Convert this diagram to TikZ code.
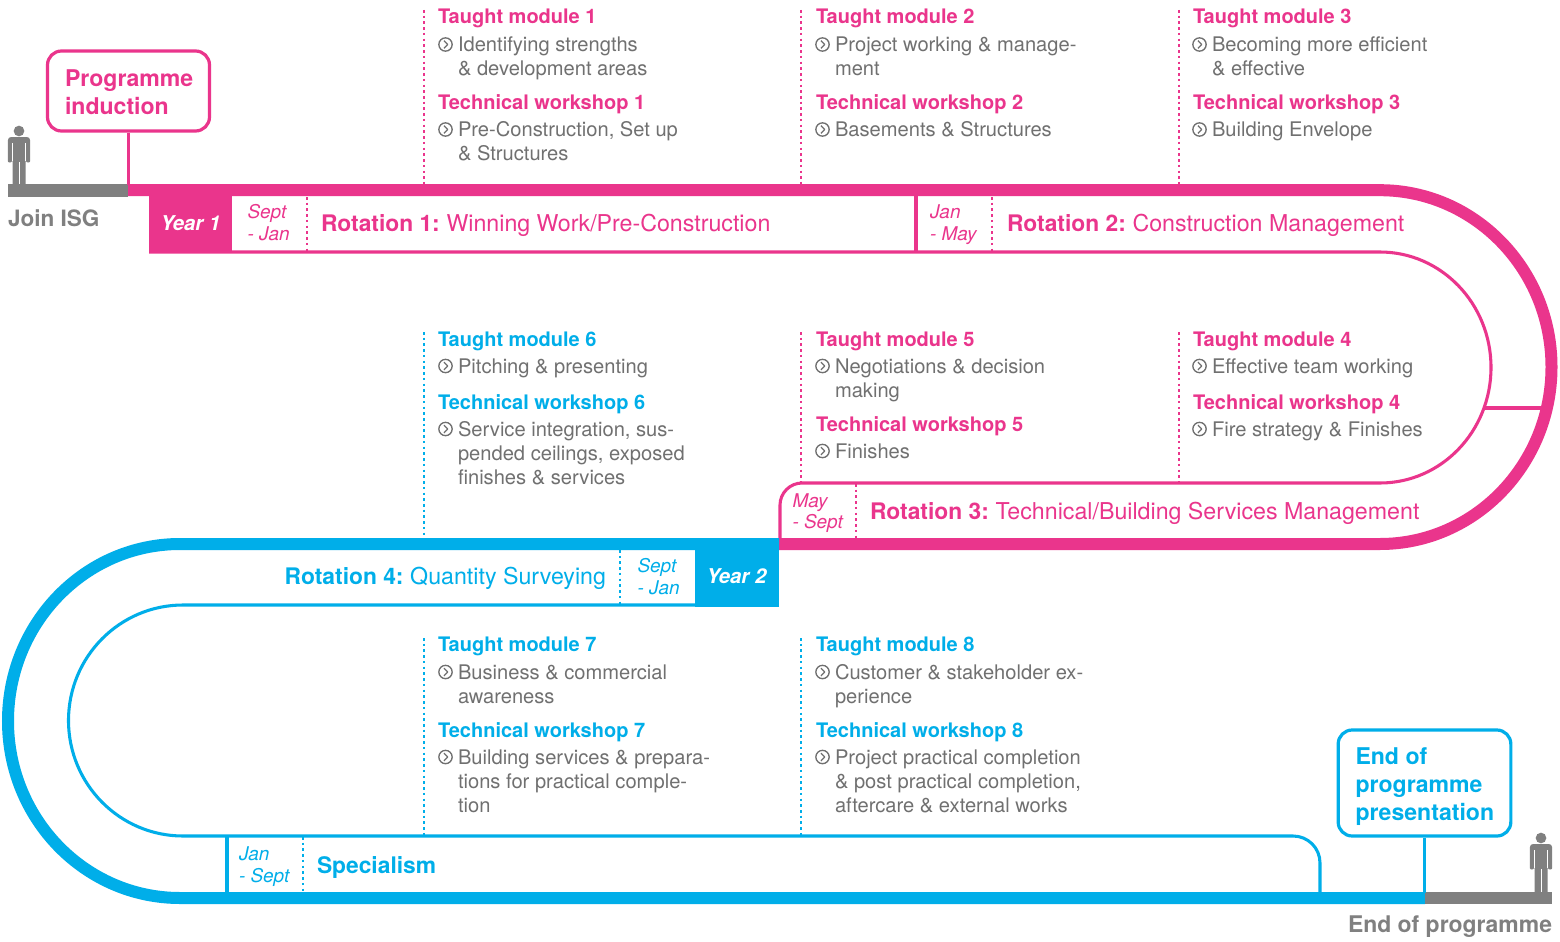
\documentclass[tikz,border=0pt]{standalone}
\usepackage{fontspec}
\setmainfont{TeX Gyre Heros}
\definecolor{pk}{RGB}{234,53,140}
\definecolor{bl}{RGB}{0,174,233}
\definecolor{gr}{RGB}{128,128,128}
\definecolor{tx}{RGB}{112,112,112}
\newcommand{\rotlabel}[2]{{\fontsize{17.1pt}{20pt}\selectfont\bfseries #1}\hspace{5pt}{\fontsize{17.4pt}{20pt}\selectfont #2}}
\tikzset{
  txt/.style={anchor=base west,inner sep=0pt,outer sep=0pt},
  headtxt/.style={txt,font=\fontsize{15pt}{17pt}\selectfont\bfseries},
  bodytxt/.style={txt,font=\fontsize{15.1pt}{18pt}\selectfont,text=tx},
  rottxt/.style={txt,font=\fontsize{17.1pt}{20pt}\selectfont},
  datetxt/.style={txt,font=\fontsize{14.2pt}{17pt}\selectfont\itshape},
  yeartxt/.style={txt,font=\fontsize{15.3pt}{17pt}\selectfont\bfseries\itshape,text=white},
  bigtxt/.style={txt,font=\fontsize{17.3pt}{20pt}\selectfont\bfseries},
  greytxt/.style={txt,font=\fontsize{16.9pt}{20pt}\selectfont\bfseries,text=gr},
  thickbar/.style={line width=9pt},
  thinline/.style={line width=2.3pt},
  dotline/.style={line width=2.2pt,dash pattern=on 1.9pt off 2.4pt},
  callout/.style={draw,line width=2.4pt,rounded corners=10.5pt,fill=white,inner sep=0pt},
  icon/.style={draw=tx,line width=1pt},
  chev/.style={draw=tx,line width=1pt,line join=round},
  person/.style={fill=gr,draw=none},
  slit/.style={draw=white,line width=0.55pt}
}
\newcommand{\hdline}[5]{\node[headtxt,text=#2] (#1) at (#3,#4) {#5};}
\newcommand{\bdline}[4]{\node[bodytxt] (#1) at (#2,#3) {#4};}
\newcommand{\buline}[4]{%
  \begin{scope}[shift={(#2-12.5,#3-7)}]
    \draw[icon] (0,0) circle[radius=5pt];
    \draw[chev] (-1.5,-3.8) -- (2.2,0) -- (-1.5,3.8);
  \end{scope}
  \node[bodytxt] (#1) at (#2,#3) {#4};}
\newcommand{\dotcon}[5]{%
  \coordinate (#1a) at (#3,#4); \coordinate (#1b) at (#3,#5);
  \draw[dotline,#2] (#1a) -- (#1b);}
\newcommand{\personfig}[2]{%
  \begin{scope}[shift={(#1,#2)}]
    \fill[person] (0,-54) circle[radius=4pt];
    \fill[person] (-11.2,-24) -- (-11.2,-44.5) .. controls (-11.2,-47) and (-9.5,-48) .. (-7.5,-48)
      -- (7.5,-48) .. controls (9.5,-48) and (11.2,-47) .. (11.2,-44.5) -- (11.2,-24)
      .. controls (11.2,-22) and (7,-22) .. (7,-24) -- (6.5,-24) -- (6.5,0) -- (-6.5,0) -- (-6.5,-24) -- (-7,-24)
      .. controls (-7,-22) and (-11.2,-22) .. (-11.2,-24) -- cycle;
    \draw[slit] (0,-23) -- (0,0);
    \draw[slit] (-6.6,-42) -- (-6.6,-24);
    \draw[slit] (6.6,-42) -- (6.6,-24);
  \end{scope}}
\begin{document}
\begin{tikzpicture}[x=0.75pt,y=-0.75pt]
\useasboundingbox (0,0) rectangle (1560,942);
\fill[white] (0,0) rectangle (1560,942);

% people
\personfig{19}{185}
\personfig{1541}{892}

% dotted leaders
\dotcon{da}{pk}{424}{10}{186}
\dotcon{db}{pk}{801}{10}{186}
\dotcon{dc}{pk}{1179}{10}{186}
\dotcon{dd}{bl}{424}{332}{540}
\dotcon{de}{pk}{801}{332}{484}
\dotcon{df}{pk}{1179}{332}{484}
\dotcon{dg}{bl}{424}{638}{838}
\dotcon{dh}{bl}{801}{638}{838}

% dividers inside the bands
\dotcon{di}{pk}{307}{197}{252}
\dotcon{dj}{pk}{992}{197}{252}
\dotcon{dk}{pk}{856}{484}{540}
\dotcon{dl}{bl}{620}{550}{605}
\dotcon{dm}{bl}{303}{837}{893}

% thin inner pink track
\draw[pk,thinline] (149,252) -- (1380,252)
  .. controls (1441.3,252) and (1491,303.7) .. (1491,367.5)
  .. controls (1491,431.3) and (1441.3,483) .. (1380,483)
  -- (802,483) .. controls (790,483) and (780,493) .. (780,505) -- (780,540);
\draw[pk,thinline] (916,196) -- (916,252);
\coordinate (lnka) at (1484,408); \coordinate (lnkb) at (1546,408);
\draw[pk,thinline] (lnka) -- (lnkb);

% thin inner blue track
\draw[bl,thinline] (695,605) -- (183,605)
  .. controls (119.8,605) and (68.5,656.7) .. (68.5,720.5)
  .. controls (68.5,784.3) and (119.8,836) .. (183,836)
  -- (1293,836) .. controls (1308,836) and (1320,848) .. (1320,863) -- (1320,893);
\draw[bl,thinline] (227,836) -- (227,893);

% thick tracks
\fill[gr] (8,184) rectangle (128,196.5);
\draw[pk,thickbar] (128,190.2) -- (1380,190.2)
  .. controls (1474.4,190.2) and (1551.5,269.2) .. (1551.5,367)
  .. controls (1551.5,464.8) and (1474.4,544) .. (1380,544) -- (779,544);
\draw[bl,thickbar] (779,544) -- (180,544)
  .. controls (85,544) and (8,623.2) .. (8,721)
  .. controls (8,818.8) and (85,898) .. (180,898) -- (1425,898);
\fill[gr] (1425,892) rectangle (1552,904);

% year tabs
\node[fill=pk,inner sep=0pt,minimum width=62.25pt,minimum height=42.75pt,anchor=north west] (yr1box) at (149,196) {};
\node[fill=bl,inner sep=0pt,minimum width=63pt,minimum height=51.75pt,anchor=north west] (yr2box) at (695,538) {};
\node[yeartxt] (yr1) at (160.5,230) {Year 1};
\node[yeartxt] (yr2) at (706.5,583) {Year 2};

% call-outs
\node[callout,draw=pk,minimum width=121.5pt,minimum height=60pt] (indbox) at (128.5,91) {};
\node[bigtxt,text=pk] (ind1) at (65,86.5) {Programme};
\node[bigtxt,text=pk] (ind2) at (65,114) {induction};
\coordinate (indfoot) at (indbox.south |- 0,185);
\draw[pk,thinline] (indbox.south) -- (indfoot);

\node[callout,draw=bl,minimum width=129.5pt,minimum height=79.5pt] (endbox) at (1424.5,783) {};
\node[bigtxt,text=bl] (end1) at (1355.5,764) {End of};
\node[bigtxt,text=bl] (end2) at (1355.5,792) {programme};
\node[bigtxt,text=bl] (end3) at (1355.5,820) {presentation};
\coordinate (endfoot) at (endbox.south |- 0,893);
\draw[bl,thinline] (endbox.south) -- (endfoot);

\node[greytxt] (join) at (8,226.5) {Join ISG};
\node[greytxt,font=\fontsize{17.2pt}{20pt}\selectfont\bfseries,anchor=base east] (endp) at (1552,932) {End of programme};

% rotation labels
\node[rottxt,text=pk] (rot1) at (321,231) {\rotlabel{Rotation 1:}{Winning Work/Pre-Construction}};
\node[rottxt,text=pk] (rot2) at (1007,231) {\rotlabel{Rotation 2:}{Construction Management}};
\node[rottxt,text=pk] (rot3) at (870,519) {\rotlabel{Rotation 3:}{Technical/Building Services Management}};
\node[rottxt,text=bl,anchor=base east] (rot4) at (606,584.5) {\rotlabel{Rotation 4:}{Quantity Surveying}};
\node[rottxt,text=bl] (spec) at (317,873) {\textbf{Specialism}};

% dates
\node[datetxt,text=pk] (da1) at (247.5,218) {Sept};
\node[datetxt,text=pk] (da2) at (247.5,240) {- Jan};
\node[datetxt,text=pk] (db1) at (930,218) {Jan};
\node[datetxt,text=pk] (db2) at (930,240) {- May};
\node[datetxt,text=pk] (dc1) at (792.5,507) {May};
\node[datetxt,text=pk] (dc2) at (792.5,528) {- Sept};
\node[datetxt,text=bl] (dd1) at (637.5,572) {Sept};
\node[datetxt,text=bl] (dd2) at (637.5,594) {- Jan};
\node[datetxt,text=bl] (de1) at (239,860) {Jan};
\node[datetxt,text=bl] (de2) at (239,882) {- Sept};

% block 1
\hdline{ha1}{pk}{438}{24}{Taught module 1}
\buline{ba1}{458}{51.5}{Identifying strengths}
\bdline{ba2}{458}{75}{\& development areas}
\hdline{ha2}{pk}{438}{109}{Technical workshop 1}
\buline{ba3}{458}{136.5}{Pre-Construction, Set up}
\bdline{ba4}{458}{160}{\& Structures}
% block 2
\hdline{hb1}{pk}{816}{24}{Taught module 2}
\buline{bb1}{835}{51.5}{Project working \& manage-}
\bdline{bb2}{835}{75}{ment}
\hdline{hb2}{pk}{816}{109}{Technical workshop 2}
\buline{bb3}{835}{136.5}{Basements \& Structures}
% block 3
\hdline{hc1}{pk}{1193}{24}{Taught module 3}
\buline{bc1}{1212}{51.5}{Becoming more efficient}
\bdline{bc2}{1212}{75}{\& effective}
\hdline{hc2}{pk}{1193}{109}{Technical workshop 3}
\buline{bc3}{1212}{136.5}{Building Envelope}
% block 6
\hdline{hf1}{bl}{438}{346}{Taught module 6}
\buline{bf1}{458}{373}{Pitching \& presenting}
\hdline{hf2}{bl}{438}{409}{Technical workshop 6}
\buline{bf2}{458}{436}{Service integration, sus-}
\bdline{bf3}{458}{460}{pended ceilings, exposed}
\bdline{bf4}{458}{484}{finishes \& services}
% block 5
\hdline{he1}{pk}{816}{346}{Taught module 5}
\buline{be1}{835}{373}{Negotiations \& decision}
\bdline{be2}{835}{397}{making}
\hdline{he2}{pk}{816}{431}{Technical workshop 5}
\buline{be3}{835}{458}{Finishes}
% block 4
\hdline{hd1}{pk}{1193}{346}{Taught module 4}
\buline{bd1}{1212}{373}{Effective team working}
\hdline{hd2}{pk}{1193}{409}{Technical workshop 4}
\buline{bd2}{1212}{436}{Fire strategy \& Finishes}
% block 7
\hdline{hg1}{bl}{438}{651.5}{Taught module 7}
\buline{bg1}{458}{679}{Business \& commercial}
\bdline{bg2}{458}{703}{awareness}
\hdline{hg2}{bl}{438}{737}{Technical workshop 7}
\buline{bg3}{458}{764}{Building services \& prepara-}
\bdline{bg4}{458}{788}{tions for practical comple-}
\bdline{bg5}{458}{812}{tion}
% block 8
\hdline{hh1}{bl}{816}{651.5}{Taught module 8}
\buline{bh1}{835}{679}{Customer \& stakeholder ex-}
\bdline{bh2}{835}{703}{perience}
\hdline{hh2}{bl}{816}{737}{Technical workshop 8}
\buline{bh3}{835}{764}{Project practical completion}
\bdline{bh4}{835}{788}{\& post practical completion,}
\bdline{bh5}{835}{812}{aftercare \& external works}
\end{tikzpicture}
\end{document}
